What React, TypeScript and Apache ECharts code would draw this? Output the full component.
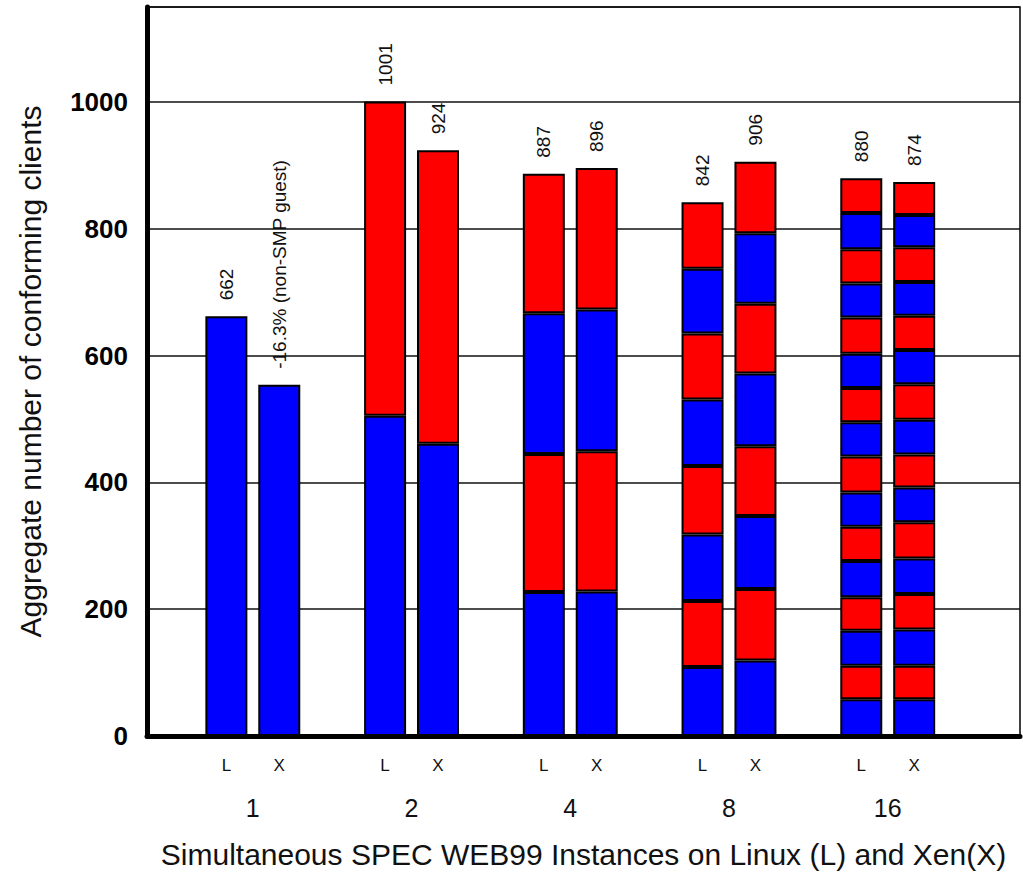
import React, { useEffect, useRef } from 'react';
import * as echarts from 'echarts';

// ---- data ----
const groups = ['1', '2', '4', '8', '16'];
const barTags = ['L', 'X'];
const linuxSegments = [
  [662],
  [505, 496],
  [227, 218, 222, 220],
  [109, 104, 105, 108, 105, 104, 102, 105],
  [58, 53, 55, 53, 57, 54, 54, 57, 54, 54, 54, 57, 54, 54, 57, 55],
];
const xenSegments = [
  [554],
  [461, 463],
  [228, 221, 224, 223],
  [119, 113, 115, 110, 115, 110, 111, 113],
  [58, 53, 57, 56, 56, 57, 55, 52, 55, 56, 54, 54, 53, 55, 51, 52],
];
const linuxLabels = ['662', '1001', '887', '842', '880'];
const xenLabels = ['-16.3% (non-SMP guest)', '924', '896', '906', '874'];
const segmentColors = ['#0000ff', '#ff0000'];

const SLOT_COUNT = 34;
const FIRST_SLOT = 3;
const GROUP_STRIDE = 6;
const FONT = '"Liberation Sans", Arial, sans-serif';

type SlotInfo = { kind: 'bar'; g: number; os: number } | { kind: 'group'; g: number } | null;

export default function App() {
  const ref = useRef<HTMLDivElement>(null);
  useEffect(() => {
    const chart = echarts.init(ref.current!, null, { renderer: 'svg' });
    const slotInfo: SlotInfo[] = Array.from({ length: SLOT_COUNT }, (_, i) => {
      const rel = i - FIRST_SLOT;
      if (rel < 0) return null;
      const g = Math.floor(rel / GROUP_STRIDE);
      const r = rel % GROUP_STRIDE;
      if (g >= groups.length) return null;
      if (r === 0) return { kind: 'bar', g, os: 0 };
      if (r === 1) return { kind: 'group', g };
      if (r === 2) return { kind: 'bar', g, os: 1 };
      return null;
    });
    const categories = slotInfo.map((_, i) => String(i));
    const maxSeg = Math.max(...[...linuxSegments, ...xenSegments].map((s) => s.length));
    const series: any[] = [];
    for (let s = 0; s < maxSeg; s++) {
      series.push({
        type: 'bar',
        stack: 'total',
        barWidth: 42,
        xAxisIndex: 0,
        itemStyle: { color: segmentColors[s % 2], borderColor: '#000', borderWidth: 2 },
        label: {
          show: false,
          position: 'top',
          distance: 16,
          rotate: 90,
          align: 'left',
          verticalAlign: 'middle',
          fontSize: 19,
          fontFamily: FONT,
          color: '#111',
        },
        data: slotInfo.map((info) => {
          if (!info || info.kind !== 'bar') return '-';
          const segs = info.os === 0 ? linuxSegments[info.g] : xenSegments[info.g];
          if (s >= segs.length) return '-';
          if (s === segs.length - 1) {
            const txt = (info.os === 0 ? linuxLabels : xenLabels)[info.g];
            return { value: segs[s], label: { show: true, formatter: txt } };
          }
          return segs[s];
        }),
      });
    }

    chart.setOption({
      animation: false,
      grid: {
        left: 147,
        right: 2,
        top: 7,
        bottom: 136.5,
        show: true,
        borderColor: '#000',
        borderWidth: 1.5,
        containLabel: false,
      },
      xAxis: [
        {
          type: 'category',
          data: categories,
          boundaryGap: false,
          position: 'bottom',
          axisLine: { show: true, lineStyle: { color: '#000', width: 5 } },
          axisTick: { show: false },
          splitLine: { show: false },
          axisLabel: {
            interval: 0,
            margin: 21,
            fontSize: 17,
            fontFamily: FONT,
            color: '#111',
            formatter: (_: string, idx: number) => {
              const info = slotInfo[idx];
              return info && info.kind === 'bar' ? barTags[info.os] : '';
            },
          },
          name: 'Simultaneous SPEC WEB99 Instances on Linux (L) and Xen(X)',
          nameLocation: 'middle',
          nameGap: 103,
          nameTextStyle: { fontSize: 30, fontFamily: FONT, color: '#111' },
        },
        {
          type: 'category',
          data: categories,
          boundaryGap: false,
          position: 'bottom',
          offset: 0,
          axisLine: { show: false },
          axisTick: { show: false },
          splitLine: { show: false },
          axisLabel: {
            interval: 0,
            margin: 59,
            fontSize: 25,
            fontFamily: FONT,
            color: '#111',
            formatter: (_: string, idx: number) => {
              const info = slotInfo[idx];
              return info && info.kind === 'group' ? groups[info.g] : '';
            },
          },
        },
      ],
      yAxis: {
        type: 'value',
        min: 0,
        max: 1150,
        interval: 200,
        axisLine: { show: true, lineStyle: { color: '#000', width: 5 } },
        axisTick: { show: false },
        splitLine: { show: true, lineStyle: { color: '#111', width: 1.5 } },
        axisLabel: {
          margin: 19,
          fontSize: 26,
          fontWeight: 'bold',
          fontFamily: FONT,
          color: '#000',
          showMaxLabel: false,
          formatter: (v: number) => (v % 200 === 0 && v <= 1000 ? String(v) : ''),
        },
        name: 'Aggregate number of conforming clients',
        nameLocation: 'middle',
        nameGap: 102,
        nameTextStyle: { fontSize: 30, fontFamily: FONT, color: '#111' },
      },
      series,
    });
    return () => chart.dispose();
  }, []);
  return (
    <div
      ref={ref}
      style={{ position: 'fixed', left: 0, top: 0, width: 1023, height: 874, background: '#fff' }}
    />
  );
}
